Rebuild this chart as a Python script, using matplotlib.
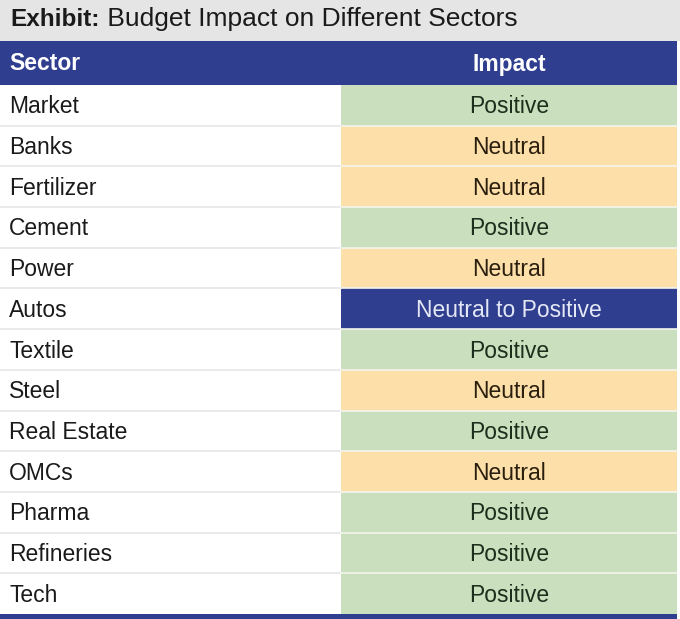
import matplotlib.pyplot as plt
from matplotlib.patches import Rectangle

plt.rcParams['font.family'] = ['Liberation Sans', 'DejaVu Sans']

title_bold = "Exhibit:"
title_rest = " Budget Impact on Different Sectors"
headers = ["Sector", "Impact"]
sectors = ["Market", "Banks", "Fertilizer", "Cement", "Power", "Autos", "Textile",
           "Steel", "Real Estate", "OMCs", "Pharma", "Refineries", "Tech"]
impacts = ["Positive", "Neutral", "Neutral", "Positive", "Neutral", "Neutral to Positive",
           "Positive", "Neutral", "Positive", "Neutral", "Positive", "Positive", "Positive"]

# colours per impact
fill = {"Positive": "#c9dfbd", "Neutral": "#fcdfa9", "Neutral to Positive": "#2f3e8e"}
txtcol = {"Positive": "#1e2e1c", "Neutral": "#2a1e0e", "Neutral to Positive": "#e4e8f6"}
navy = "#2f3e8e"

W, H = 680, 619
fig = plt.figure(figsize=(W / 100, H / 100), dpi=100)
ax = fig.add_axes([0, 0, 1, 1])
ax.set_xlim(0, W)
ax.set_ylim(H, 0)
ax.axis('off')

# title bar
ax.add_patch(Rectangle((0, 0), W, 41, color="#e5e5e5", lw=0))
t = ax.text(10, 19, title_bold, fontsize=17.5, fontweight='bold', color="#1a1a1a",
            va='center', ha='left')
fig.canvas.draw()
bb = t.get_window_extent()
x2 = ax.transData.inverted().transform((bb.x1, bb.y0))[0]
ax.text(x2, 19, title_rest, fontsize=19, color="#1a1a1a", va='center', ha='left')

# header
top, hh = 41, 44
ax.add_patch(Rectangle((0, top), 677, hh, color=navy, lw=0))
ax.text(9, top + hh / 2 + 1, headers[0], fontsize=16.5, fontweight='bold', color='white',
        va='center', ha='left')
ax.text(509, top + hh / 2 + 1, headers[1], fontsize=16.5, fontweight='bold', color='white',
        va='center', ha='center')

y0 = top + hh
rh = (614 - y0) / len(sectors)
cx0, cx1 = 341, 677
for i, (s, imp) in enumerate(zip(sectors, impacts)):
    y = y0 + i * rh
    ax.add_patch(Rectangle((cx0, y), cx1 - cx0, rh, color=fill[imp], lw=0))
    if i > 0:
        ax.plot([0, cx0], [y, y], color="#e6e6e6", lw=1.2)
        ax.plot([cx0, cx1], [y, y], color="#f4f4ee", lw=1.2)
    ax.text(9, y + rh / 2 + 1.5, s, fontsize=16.5, color="#1a1a1a", va='center', ha='left')
    ax.text((cx0 + cx1) / 2, y + rh / 2 + 1.5, imp, fontsize=16.5, color=txtcol[imp],
            va='center', ha='center')

# bottom rule
ax.add_patch(Rectangle((0, 614), 677, 5, color=navy, lw=0))

fig.savefig("out.png", dpi=100)
